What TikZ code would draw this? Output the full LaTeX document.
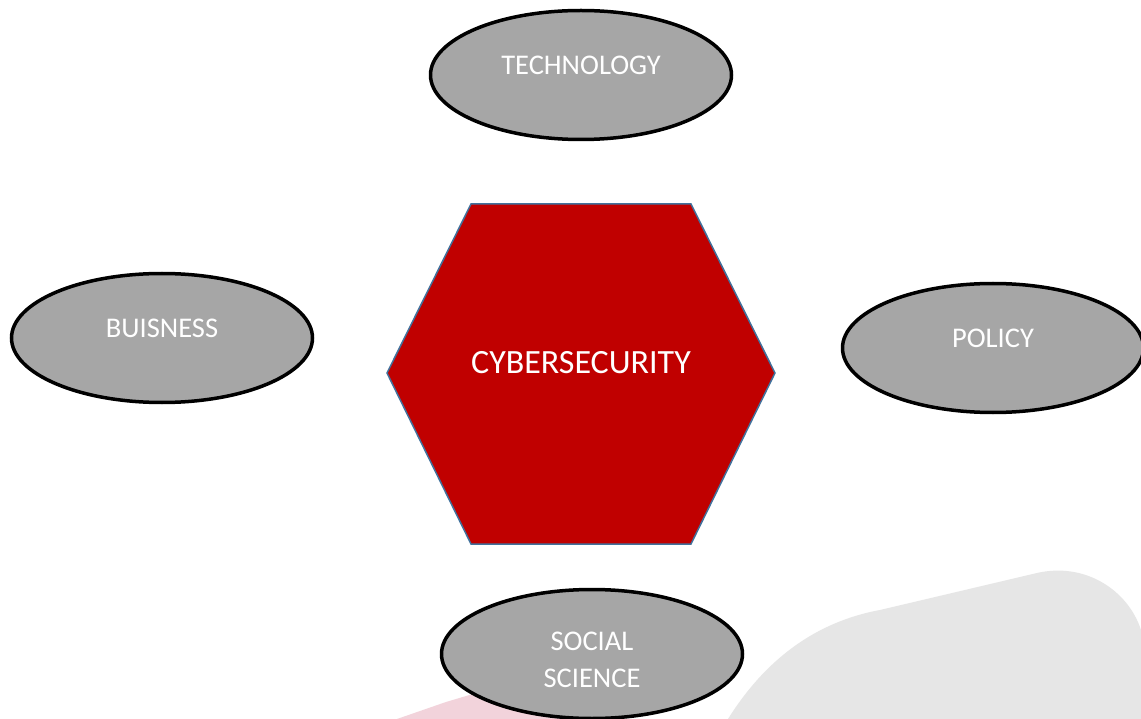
\documentclass[tikz,border=0pt]{standalone}
\usepackage{fontspec}
\setmainfont{Carlito}
\usetikzlibrary{shapes.geometric}
\definecolor{HexRed}{HTML}{C00000}
\definecolor{HexEdge}{HTML}{41719C}
\definecolor{OvalGray}{HTML}{A6A6A6}
\definecolor{SwooshGray}{HTML}{E6E6E6}
\definecolor{SwooshPink}{HTML}{F2D3DB}
\tikzset{
    Oval/.style={ellipse, draw=black, line width=3.5pt, fill=OvalGray,
        minimum width=301pt, minimum height=129pt, inner sep=0pt},
    OvalText/.style={text=white, font=\fontsize{28.5}{37}\selectfont, align=center, inner sep=0pt},
    CoreText/.style={text=white, font=\fontsize{34}{40}\selectfont, inner sep=0pt},
}

\begin{document}
\begin{tikzpicture}[x=1pt,y=-1pt]
    \fill[white] (0,0) rectangle (1141,719);
    \useasboundingbox (0,0) rectangle (1141,719);
    \begin{scope} % backdrop
        \fill[SwooshGray] (728,719) .. controls (765,660) and (815,622) .. (880,610)
            -- (1037,573) .. controls (1085,562) and (1128,590) .. (1141,630) -- (1141,719) -- cycle;
        \fill[SwooshPink] (397,719) -- (446,702) -- (520,680) -- (580,719) -- cycle;
    \end{scope}
    \begin{scope} % centre
        \draw[fill=HexRed, draw=HexEdge, line width=1.5pt]
            (471,204) coordinate(HexNW) -- (691,204) coordinate(HexNE) -- (775,373) coordinate(HexE)
            -- (691,544) coordinate(HexSE) -- (471,544) coordinate(HexSW) -- (387,373) coordinate(HexW) -- cycle;
        \node[CoreText] (Cyber) at (581,363) {CYBERSECURITY};
    \end{scope}
    \begin{scope} % ovals
        \node[Oval] (Tech) at (581,75) {};
        \node[Oval] (Business) at (162,338) {};
        \node[Oval] (Policy) at (993,348) {};
        \node[Oval] (Social) at (592,654) {};
        \node[OvalText] (TechText) at ([yshift=10pt]Tech.center) {TECHNOLOGY};
        \node[OvalText] (BusinessText) at ([yshift=10pt]Business.center) {BUISNESS};
        \node[OvalText] (PolicyText) at ([yshift=10pt]Policy.center) {POLICY};
        \node[OvalText] (SocialText) at ([yshift=-6pt]Social.center) {SOCIAL\\SCIENCE};
    \end{scope}
\end{tikzpicture}
\end{document}
